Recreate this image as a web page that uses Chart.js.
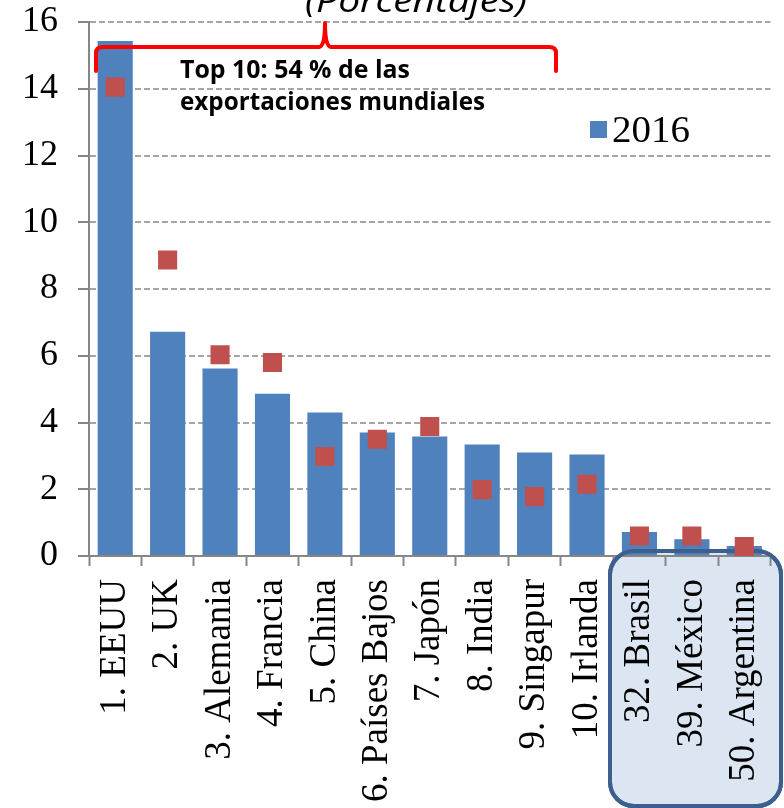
<!DOCTYPE html>
<html>
<head>
<meta charset="utf-8">
<script src="https://cdn.jsdelivr.net/npm/chart.js@4/dist/chart.umd.min.js"></script>
<style>
  body { margin: 0; background: #fff; }
</style>
</head>
<body>
<canvas id="myChart" width="784" height="808"></canvas>
<script>
const categories = ['1. EEUU', '2. UK', '3. Alemania', '4. Francia', '5. China', '6. Países Bajos',
  '7. Japón', '8. India', '9. Singapur', '10. Irlanda', '32. Brasil', '39. México', '50. Argentina'];
const share2016 = [15.43, 6.72, 5.62, 4.86, 4.30, 3.70, 3.58, 3.34, 3.10, 3.04, 0.72, 0.50, 0.30];
const sharePrev = [14.05, 8.87, 6.03, 5.80, 2.98, 3.50, 3.88, 1.99, 1.78, 2.15, 0.60, 0.60, 0.28];
const yMin = 0, yMax = 16, yStep = 2;

const serif = '"Liberation Serif", "Times New Roman", serif';
const blue = '#4f81bd';
const red = '#c0504d';

// draw text scaled to a given width (Calibri is narrower than what we have)
const fitText = (ctx, text, x, y, width) => {
  const w = ctx.measureText(text).width;
  ctx.save();
  ctx.translate(x, y);
  ctx.scale(width / w, 1);
  ctx.fillText(text, 0, 0);
  ctx.restore();
};

const boxPath = (ctx) => {
  ctx.beginPath();
  ctx.roundRect(610, 551, 171, 255, 24);
};

const overlay = {
  id: 'overlay',
  beforeDraw(chart) {
    const ctx = chart.ctx;
    ctx.save();
    boxPath(ctx);
    ctx.fillStyle = '#dce6f2';
    ctx.fill();
    ctx.lineWidth = 4;
    ctx.strokeStyle = '#3d5f8e';
    ctx.stroke();
    ctx.restore();
  },
  afterDatasetDraw(chart, args) {
    if (args.index !== 0) return;
    const ctx = chart.ctx;
    ctx.save();
    boxPath(ctx);
    ctx.lineWidth = 4;
    ctx.strokeStyle = '#3d5f8e';
    ctx.stroke();
    ctx.restore();
  },
  afterDraw(chart) {
    const ctx = chart.ctx;
    ctx.save();
    // title, cut at the top
    ctx.fillStyle = '#000';
    ctx.font = 'italic 32px "Open Sans"';
    ctx.textBaseline = 'alphabetic';
    fitText(ctx, '(Porcentajes)', 305, 12, 222);

    // red bracket over the top 10
    ctx.strokeStyle = '#ff0000';
    ctx.lineWidth = 4;
    ctx.lineJoin = 'round';
    ctx.lineCap = 'round';
    ctx.beginPath();
    ctx.moveTo(96, 71);
    ctx.lineTo(96, 53);
    ctx.quadraticCurveTo(96, 47, 103, 47);
    ctx.lineTo(319, 47);
    ctx.quadraticCurveTo(325, 47, 325, 23);
    ctx.quadraticCurveTo(325, 47, 331, 47);
    ctx.lineTo(549, 47);
    ctx.quadraticCurveTo(556, 47, 556, 53);
    ctx.lineTo(556, 71);
    ctx.stroke();

    ctx.fillStyle = '#000';
    ctx.font = 'bold 25px "Open Sans"';
    ctx.textBaseline = 'alphabetic';
    fitText(ctx, 'Top 10: 54 % de las', 180, 78, 230);
    fitText(ctx, 'exportaciones mundiales', 180, 110, 305);

    // legend
    ctx.fillStyle = blue;
    ctx.fillRect(590, 121, 17, 17);
    ctx.fillStyle = '#000';
    ctx.font = '38px ' + serif;
    ctx.textBaseline = 'middle';
    fitText(ctx, '2016', 612, 132, 78);
    ctx.restore();
  }
};

const ctx = document.getElementById('myChart').getContext('2d');
const chart = new Chart(ctx, {
  data: {
    labels: categories,
    datasets: [
      {
        type: 'bar',
        label: '2016',
        data: share2016,
        backgroundColor: blue,
        borderWidth: 0,
        barPercentage: 0.67,
        categoryPercentage: 1,
        order: 2
      },
      {
        type: 'line',
        label: 'anterior',
        data: sharePrev,
        showLine: false,
        pointStyle: 'rect',
        pointRadius: 13.5,
        pointBackgroundColor: red,
        pointBorderWidth: 0,
        order: 1
      }
    ]
  },
  options: {
    responsive: false,
    animation: false,
    layout: { padding: { top: 22, right: 12, left: 0, bottom: 0 } },
    plugins: {
      legend: { display: false },
      tooltip: { enabled: false }
    },
    scales: {
      x: {
        offset: true,
        grid: {
          offset: true,
          drawOnChartArea: false,
          drawTicks: true,
          tickLength: 10,
          tickColor: '#868686',
          tickWidth: 2
        },
        border: { color: '#868686', width: 2 },
        ticks: {
          color: '#000',
          font: { family: serif, size: 37 },
          minRotation: 90,
          maxRotation: 90,
          autoSkip: false,
          padding: 13
        },
        afterFit: (scale) => {
          scale.height = 252;
          scale.paddingLeft = 0;
          scale.paddingRight = 0;
        }
      },
      y: {
        min: yMin,
        max: yMax,
        ticks: {
          stepSize: yStep,
          color: '#000',
          font: { family: serif, size: 36 },
          padding: 20
        },
        grid: {
          color: (c) => c.tick && c.tick.value === 0 ? 'rgba(0,0,0,0)' : '#a6a6a6',
          lineWidth: 2,
          tickColor: '#868686',
          tickWidth: 2,
          tickLength: 11,
          tickBorderDash: []
        },
        border: { color: '#868686', width: 2, dash: [6, 3] },
        afterFit: (scale) => {
          scale.width = 89;
          scale.paddingTop = 0;
          scale.paddingBottom = 0;
        }
      }
    }
  },
  plugins: [overlay]
});
</script>
</body>
</html>
